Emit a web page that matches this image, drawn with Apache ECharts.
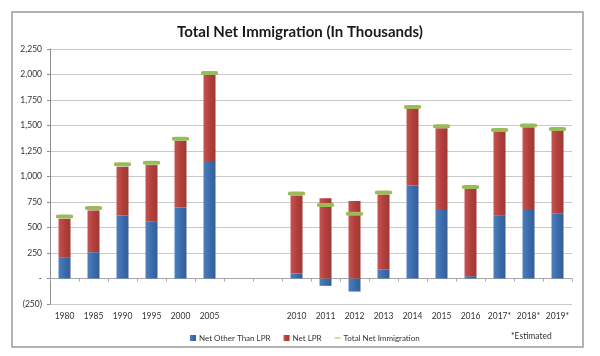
<!DOCTYPE html>
<html>
<head>
<meta charset="utf-8">
<script src="https://cdn.jsdelivr.net/npm/echarts@6/dist/echarts.min.js"></script>
<style>
html,body{margin:0;padding:0;background:#fff;}
#chart{width:600px;height:356px;}
</style>
</head>
<body>
<div id="chart"></div>
<script>
const categories = ['1980','1985','1990','1995','2000','2005','','','2010','2011','2012','2013','2014','2015','2016','2017*','2018*','2019*'];
const netOtherThanLPR = [203, 258, 618, 556, 697, 1142, null, null, 49, -72, -128, 89, 912, 672, 23, 616, 672, 639];
const netLPR = [383, 409, 478, 556, 654, 856, null, null, 764, 787, 761, 734, 757, 800, 859, 827, 810, 810];
const totalNet = [609, 690, 1119, 1135, 1371, 2015, null, null, 833, 721, 636, 843, 1682, 1492, 898, 1456, 1499, 1466];
const yTicks = { min: -250, max: 2250, step: 250 };

const FONT = 'Lato';
function fmt(v){
  if (v === 0) return '-';
  const s = Math.abs(v).toLocaleString('en-US');
  return v < 0 ? '(' + s + ')' : s;
}
function grad(l, m, r){
  return new echarts.graphic.LinearGradient(0,0,1,0,[
    {offset:0,color:l},{offset:0.5,color:m},{offset:1,color:r}
  ]);
}
const chart = echarts.init(document.getElementById('chart'), null, {renderer:'canvas'});
chart.setOption({
  animation:false,
  backgroundColor:'#fff',
  title:{
    text:'Total Net Immigration (In Thousands)',
    left:'center', top:20,
    textStyle:{fontFamily:FONT, fontWeight:'bold', fontSize:15, color:'#1a1a1a'}
  },
  legend:{
    left:185, top:329,
    itemWidth:6, itemHeight:6, itemGap:13,
    textStyle:{fontFamily:FONT, fontSize:8, color:'#333', padding:[0,0,0,-2]},
    data:[
      {name:'Net Other Than LPR', icon:'rect'},
      {name:'Net LPR', icon:'rect'},
      {name:'Total Net Immigration', icon:'path://M0,0H10V1.6H0Z'}
    ]
  },
  graphic:[
    {type:'rect', shape:{x:12, y:12, width:571, height:335}, style:{fill:'none', stroke:'#9a9a9a', lineWidth:1.5}, silent:true},
    {type:'text', left:511, top:332, style:{text:'*Estimated', fontFamily:FONT, fontSize:8.5, fill:'#333'}}
  ],
  grid:{left:50, right:28, top:49, bottom:52},
  xAxis:[
    {
      type:'category', data:categories, position:'bottom',
      axisLine:{show:false, onZero:false},
      axisTick:{show:false},
      axisLabel:{fontFamily:FONT, fontSize:8.5, color:'#333', margin:8, interval:0}
    },
    {
      type:'category', data:categories, position:'top',
      axisLine:{show:true, onZero:true, lineStyle:{color:'#a8a8a8', width:1}},
      axisTick:{show:true, inside:true, length:3, interval:0, lineStyle:{color:'#a8a8a8'}},
      axisLabel:{show:false}
    }
  ],
  yAxis:{
    type:'value', min:yTicks.min, max:yTicks.max, interval:yTicks.step,
    axisLine:{show:true, lineStyle:{color:'#8c8c8c', width:1}},
    axisTick:{show:true, length:3, lineStyle:{color:'#8c8c8c'}},
    splitLine:{lineStyle:{color:'#c9c9c9', width:1}},
    axisLabel:{fontFamily:FONT, fontSize:8.5, color:'#333', margin:8, formatter:fmt}
  },
  series:[
    {
      name:'Net Other Than LPR', type:'bar', stack:'a', xAxisIndex:0,
      barWidth:12, data:netOtherThanLPR,
      itemStyle:{color:grad('#4d80c0','#3c6cab','#335e99')}
    },
    {
      name:'Net LPR', type:'bar', stack:'a', xAxisIndex:0,
      barWidth:12, data:netLPR,
      itemStyle:{color:grad('#c65551','#b2403c','#9f3834')}
    },
    {
      name:'Total Net Immigration', type:'line', xAxisIndex:0,
      data:totalNet, symbol:'roundRect', symbolSize:[17,4], showSymbol:true,
      lineStyle:{width:0, opacity:0}, itemStyle:{color:'#9bbb59'}, z:5,
      connectNulls:false
    }
  ]
});
</script>
</body>
</html>
